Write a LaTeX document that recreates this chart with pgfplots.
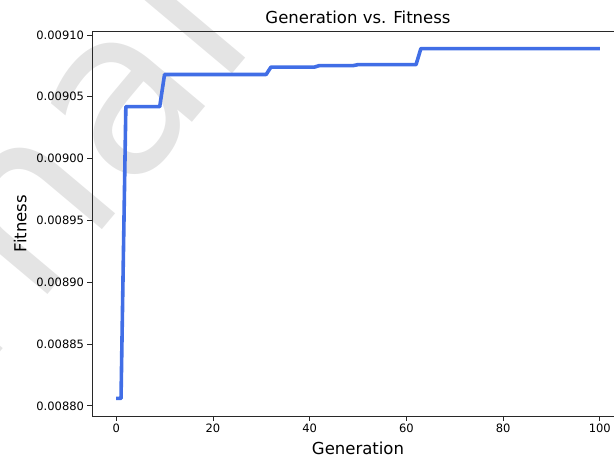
\documentclass[border=0pt]{standalone}
\usepackage{pgfplots}
\pgfplotsset{compat=1.18}
\usepackage{fontspec}
\setmainfont{DejaVu Sans}
\definecolor{lineblue}{RGB}{65,110,230}
\definecolor{wm}{RGB}{228,228,228}
\definecolor{spine}{RGB}{40,40,40}
\begin{document}
\begin{tikzpicture}
% watermark
\node[text=wm, rotate=50, anchor=base east, inner sep=0pt, font=\fontsize{230}{230}\selectfont] at (168pt,374pt) {rnal};
\begin{axis}[
  at={(0,0)}, anchor=south west,
  scale only axis, width=532pt, height=385pt,
  xmin=-5, xmax=105,
  ymin=0.0087918, ymax=0.0091032,
  xtick={0,20,40,60,80,100},
  ytick={0.0088,0.00885,0.0089,0.00895,0.009,0.00905,0.0091},
  scaled y ticks=false,
  yticklabel style={/pgf/number format/fixed, /pgf/number format/fixed zerofill, /pgf/number format/precision=5},
  /pgf/number format/assume math mode=true,
  tick label style={font=\fontsize{11.5}{13}\selectfont, text=black},
  tick align=outside, xtick pos=bottom, ytick pos=left,
  major tick length=4.5pt,
  every tick/.style={spine, line width=0.8pt},
  axis line style={spine, line width=0.9pt},
  title={Generation vs. Fitness},
  title style={font=\fontsize{16.5}{18}\selectfont, yshift=-2pt},
  xlabel={Generation}, ylabel={Fitness},
  label style={font=\fontsize{16.5}{18}\selectfont},
  xlabel style={yshift=-2pt},
  ylabel style={yshift=3pt},
]
\addplot[lineblue, line width=3.6pt, line join=round] coordinates {
(0,0.008806) (1,0.008806) (2,0.009042) (9,0.009042) (10,0.009068) (31,0.009068)
(32,0.009074) (41,0.009074) (42,0.0090752) (49,0.0090752) (50,0.009076) (62,0.009076)
(63,0.009089) (100,0.009089)
};
\end{axis}
\pgfresetboundingbox
\path[use as bounding box] (-92pt,-43pt) rectangle (522pt,416pt);
\end{tikzpicture}
\end{document}
